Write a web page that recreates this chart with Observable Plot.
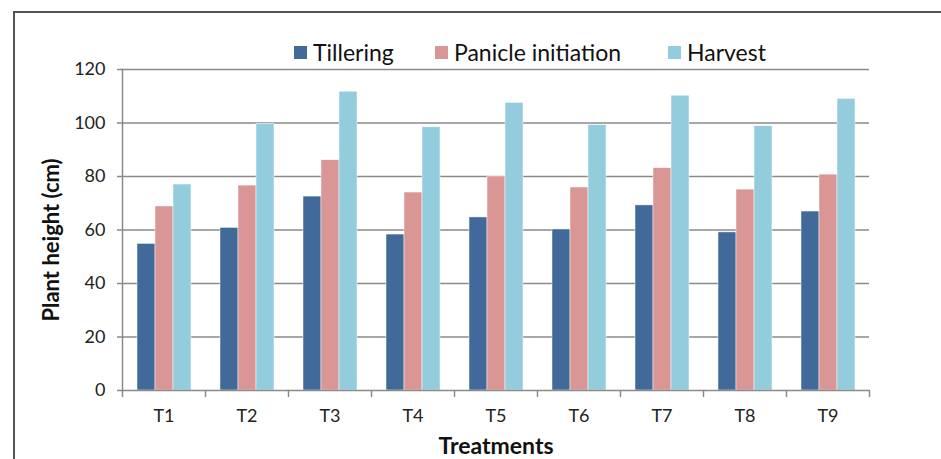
<!DOCTYPE html>
<html><head><meta charset="utf-8">
<script src="https://cdn.jsdelivr.net/npm/d3@7"></script>
<script src="https://cdn.jsdelivr.net/npm/@observablehq/plot@0.6"></script>
<style>
body{margin:0;background:#fff;font-family:Lato,"Open Sans",sans-serif;}
#wrap{position:relative;width:941px;height:459px;overflow:hidden;background:#fff;}
#box{position:absolute;left:13px;top:11px;width:1000px;height:520px;border-left:2px solid #555;border-top:2px solid #555;}
#chart{position:absolute;left:0;top:0;}
.item{position:absolute;top:36px;height:32px;display:flex;align-items:center;font-size:23px;color:#111;white-space:nowrap;}
.sw{width:13px;height:13px;margin-right:6px;}
</style></head>
<body>
<div id="wrap"><div id="box"></div><div id="chart"></div></div>
<script>
const treatments = ["T1","T2","T3","T4","T5","T6","T7","T8","T9"];
const series = ["Tillering","Panicle initiation","Harvest"];
const tillering = [54.8,60.8,72.5,58.3,64.7,60.2,69.2,59.1,66.9];
const panicle = [68.8,76.6,86.1,74.0,80.0,75.9,83.1,75.1,80.7];
const harvest = [77.0,99.7,111.7,98.4,107.5,99.2,110.2,98.8,109.0];
const yTicks = [0,20,40,60,80,100,120];
const colors = ["#416a9b","#d99694","#93cddd"];

const valuesBySeries = [tillering, panicle, harvest];
const rows = [];
treatments.forEach((t,i)=>series.forEach((s,k)=>rows.push({treatment:t, series:s, value:valuesBySeries[k][i]})));

const tickShape = {draw(context, l){context.moveTo(0,0);context.lineTo(0,-l);}};
const font = "Lato, 'Open Sans', sans-serif";

const chart = Plot.plot({
  width:941, height:459,
  marginLeft:121, marginRight:71, marginTop:69, marginBottom:69,
  style:{fontFamily:font, fontSize:"18px", color:"#222", background:"transparent"},
  fx:{domain:treatments, padding:0, label:null},
  x:{domain:series, paddingInner:0, paddingOuter:0.75, axis:null},
  y:{domain:[0,120]},
  color:{domain:series, range:colors},
  marks:[
    Plot.gridY(yTicks.filter(d=>d>0), {stroke:"#8a8a8a", strokeOpacity:1, strokeWidth:1.5}),
    Plot.barY(rows, {fx:"treatment", x:"series", y:"value", fill:"series", stroke:"#ffffff", strokeWidth:0.6, strokeOpacity:0.8}),
    Plot.ruleY([0], {stroke:"#8a8a8a", strokeWidth:1.5}),
    Plot.frame({anchor:"left", stroke:"#8a8a8a", strokeWidth:1.5, facetAnchor:"left"}),
    Plot.vector([0], {frameAnchor:"bottom-left", length:6, rotate:180, anchor:"start", shape:tickShape, stroke:"#8a8a8a", strokeWidth:1.5}),
    Plot.vector([0], {frameAnchor:"bottom-right", length:6, rotate:180, anchor:"start", shape:tickShape, stroke:"#8a8a8a", strokeWidth:1.5, facetAnchor:"right"}),
    Plot.axisY({ticks:yTicks, tickSize:5, tickPadding:12, label:null, stroke:"#8a8a8a", strokeWidth:1.5, fill:"#222", fontSize:18}),
    Plot.axisFx({anchor:"bottom", tickSize:0, tickPadding:19, label:null, fontSize:18, fill:"#222"}),
    Plot.text(["Plant height (cm)"], {frameAnchor:"left", textAnchor:"middle", lineAnchor:"middle", dx:-71, dy:10, rotate:-90, fontSize:22, fontWeight:"bold", fill:"#111", facetAnchor:"left"}),
    Plot.text(["Treatments"], {fx:()=>treatments[Math.floor(treatments.length/2)], frameAnchor:"bottom", lineAnchor:"middle", dy:56, fontSize:23, fontWeight:"bold", fill:"#111"})
  ]
});
const wrap = document.getElementById("wrap");
document.getElementById("chart").appendChild(chart);

const legendLeft = [294, 435, 668];
series.forEach((s,k)=>{
  const it = document.createElement("div"); it.className="item"; it.style.left = legendLeft[k]+"px";
  const sw = document.createElement("div"); sw.className="sw"; sw.style.background=colors[k];
  const tx = document.createElement("span"); tx.textContent=s;
  it.appendChild(sw); it.appendChild(tx); wrap.appendChild(it);
});
</script>
</body></html>
